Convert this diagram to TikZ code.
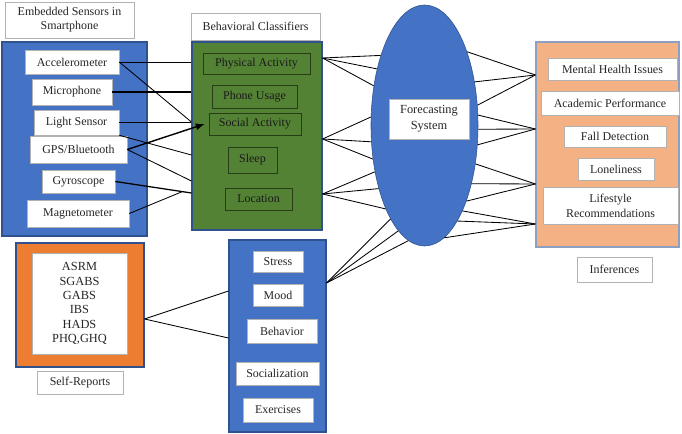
\documentclass[tikz,border=0pt]{standalone}
\usepackage{fontspec}
\setmainfont{Liberation Serif}
\usetikzlibrary{shapes.geometric}
\usetikzlibrary{calc}
\usetikzlibrary{arrows.meta}
\definecolor{sensblue}{HTML}{4472C4}
\definecolor{edgeblue}{HTML}{2F528F}
\definecolor{clsgreen}{HTML}{548235}
\definecolor{clsedge}{HTML}{263D18}
\definecolor{srorange}{HTML}{ED7D31}
\definecolor{infpeach}{HTML}{F4B183}
\tikzset{wh/.style 2 args = {minimum width = #1*0.25mm, minimum height = #2*0.25mm}}
\tikzset{panel/.style = {draw = edgeblue, line width = 0.8pt, inner sep = 0}}
\tikzset{item/.style = {draw = gray!60, fill = white, inner sep = 0, align = center,
                        text = black!85, font = \fontsize{8.5}{10}\selectfont}}
\tikzset{clsitem/.style = {draw = clsedge, line width = 0.5pt, inner sep = 0, align = center,
                           text = black!90, font = \fontsize{8.5}{10}\selectfont}}
\tikzset{link/.style = {line width = 0.6pt}}

\begin{document}
\begin{tikzpicture}[x = 0.25mm, y = -0.25mm]
    \useasboundingbox (0, 0) rectangle (682, 434);

    \node [item, wh = {129}{36}] (senstitle) at (69.5, 20) {Embedded Sensors in\\Smartphone};
    \node [panel, fill = sensblue, wh = {145}{194}] (sens) at (74.5, 139) {};
    \node [item, wh = {94}{24}] (acc) at (72, 62) {Accelerometer};
    \node [item, wh = {80}{26}] (mic) at (72, 92) {Microphone};
    \node [item, wh = {85}{25}] (light) at (76.5, 122.5) {Light Sensor};
    \node [item, wh = {97}{27}] (gps) at (78.5, 149.5) {GPS/Bluetooth};
    \node [item, wh = {73}{23}] (gyro) at (78.5, 181.5) {Gyroscope};
    \node [item, wh = {102}{27}] (mag) at (78, 213.5) {Magnetometer};

    \node [item, wh = {129}{27}] (clstitle) at (255.5, 26.5) {Behavioral Classifiers};
    \node [panel, fill = clsgreen, wh = {130}{188}] (cls) at (257, 136) {};
    \node [clsitem, wh = {107}{21}] (pa) at (256.5, 63.5) {Physical Activity};
    \node [clsitem, wh = {85}{23}] (pu) at (254.5, 96.5) {Phone Usage};
    \node [clsitem, wh = {92}{22}] (sa) at (255, 124) {Social Activity};
    \node [clsitem, wh = {49}{26}] (sleep) at (252.5, 160) {Sleep};
    \node [clsitem, wh = {67}{22}] (loc) at (258.5, 199) {Location};

    \node [ellipse, draw = edgeblue, fill = sensblue, inner sep = 0, wh = {107}{241}] (fc) at (424.5, 125.5) {};
    \node [item, wh = {80}{40}, font = \fontsize{8.8}{11.4}\selectfont] (fcs) at (429, 119) {Forecasting\\System};

    \node [panel, draw = edgeblue!55, fill = infpeach, wh = {143}{205}] (inf) at (607.5, 144.5) {};
    \node [item, wh = {129}{22}] (mh) at (612.5, 69) {Mental Health Issues};
    \node [item, wh = {138}{24}] (ap) at (610, 103) {Academic Performance};
    \node [item, wh = {102}{21}] (fd) at (615, 136.5) {Fall Detection};
    \node [item, wh = {76}{22}] (lon) at (616, 169) {Loneliness};
    \node [item, wh = {135}{37}, font = \fontsize{8.5}{10.7}\selectfont] (lr) at (610.5, 205.5) {Lifestyle\\Recommendations};
    \node [item, wh = {75}{25}] (inftitle) at (614.5, 269.5) {Inferences};

    \node [panel, fill = srorange, wh = {128}{124}] (sr) at (80, 305) {};
    \node [item, wh = {95}{101}, font = \fontsize{8.8}{10.2}\selectfont] (srlist) at (79.5, 303.5) {ASRM\\SGABS\\GABS\\IBS\\HADS\\PHQ,GHQ};
    \node [item, wh = {86}{23}] (srtitle) at (80, 382.5) {Self-Reports};

    \node [panel, fill = sensblue, wh = {97}{192}] (surv) at (277.5, 336) {};
    \node [item, wh = {50}{21}] (stress) at (278, 261.5) {Stress};
    \node [item, wh = {50}{22}] (mood) at (278, 295) {Mood};
    \node [item, wh = {70}{24}] (beh) at (282, 331) {Behavior};
    \node [item, wh = {83}{23}] (soc) at (277.5, 373.5) {Socialization};
    \node [item, wh = {70}{24}] (exe) at (278, 410) {Exercises};

    \draw [link] (acc.east) -- (acc.east -| cls.west);
    \draw [link] (acc.east) -- (cls.west |- 0, 122);
    \draw [link, line width = 0.8pt] (mic.east) -- (mic.east -| cls.west);
    \draw [link, line width = 0.8pt] (light.east) -- (light.east -| cls.west);
    \draw [link] (light.south east) -- (cls.west |- 0, 155);
    \draw [link, line width = 1pt, -{Latex[length = 2.2mm, width = 1.8mm]}] (gps.east) -- ([xshift = -1mm] sa.west);
    \draw [link] (gps.east) -- (cls.west |- 0, 181);
    \draw [link, line width = 0.9pt] (gyro.east) -- (cls.west |- 0, 193);
    \coordinate (gm) at ($(gyro.east)!0.88!(cls.west |- 0, 193)$);
    \draw [link] (mag.east) -- (gm);

    \foreach \a in {122, 130, 142}
        \draw [link] (cls.east |- 0, 58) -- (fc.\a);
    \foreach \a in {171, 197, 213}
        \draw [link] (cls.east |- 0, 139) -- (fc.\a);
    \foreach \a in {223, 234, 245}
        \draw [link] (cls.east |- 0, 194) -- (fc.\a);
    \foreach \a in {250, 256, 262}
        \draw [link] (surv.east |- 0, 283) -- (fc.\a);

    \draw [link] (sr.east |- 0, 319) -- (surv.west |- 0, 291);
    \draw [link] (sr.east |- 0, 319) -- (surv.west |- 0, 338);

    \foreach \a in {60, 41, 21}
        \draw [link] (fc.\a) -- (inf.west |- 0, 75);
    \foreach \a in {11, -4, -20}
        \draw [link] (fc.\a) -- (inf.west |- 0, 129);
    \foreach \a in {-37, -51, -61}
        \draw [link] (fc.\a) -- (inf.west |- 0, 184);
    \foreach \a in {-66, -71, -80}
        \draw [link] (fc.\a) -- (inf.west |- 0, 224);
\end{tikzpicture}
\end{document}
